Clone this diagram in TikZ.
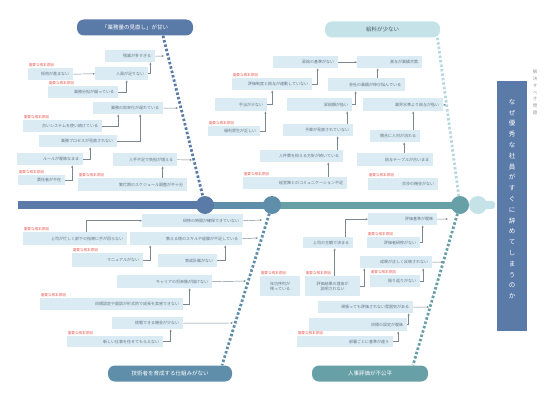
\documentclass[tikz,border=0pt]{standalone}
\usepackage{fontspec}
\setmainfont{Noto Sans CJK JP}
\XeTeXlinebreaklocale "ja"
\XeTeXlinebreakskip=0pt
\usetikzlibrary{arrows.meta}
\definecolor{navy}{RGB}{90,122,168}
\definecolor{steel}{RGB}{94,142,170}
\definecolor{teal}{RGB}{104,160,168}
\definecolor{pale}{RGB}{196,226,231}
\definecolor{boxc}{RGB}{218,235,243}
\definecolor{txt}{RGB}{100,118,130}
\definecolor{lnc}{RGB}{120,135,145}
\definecolor{redl}{RGB}{232,92,86}

\begin{document}
\begin{tikzpicture}[x=1pt,y=-1pt,
		box/.style={fill=boxc, text=txt, font=\fontsize{4}{5}\selectfont, inner xsep=4pt, inner ysep=0pt,
			minimum height=12pt, anchor=north west, text width=#1pt, align=right},
		rlbl/.style={text=redl, font=\fontsize{3.6}{4}\selectfont, inner sep=0.6pt, anchor=south west},
		cat/.style={rounded corners=7pt, minimum height=16pt, inner sep=0pt, font=\fontsize{5.5}{6}\selectfont, text=white},
		conn/.style={draw=lnc, line width=0.45pt, -{Stealth[length=2.4pt,width=2pt]}},
		bone/.style={line width=2.8pt, dash pattern=on 2.5pt off 2pt},
		joint/.style={circle, minimum size=18pt, inner sep=0pt},
		vtxt/.style={text width=7pt, align=center, inner sep=0pt, anchor=north}]
		\useasboundingbox (0,0) rectangle (553,404);
		\coordinate (j1) at (205,205);
		\coordinate (j2) at (272,205);
		\coordinate (j3) at (460,205);

		% categories
		\node[cat, fill=navy, minimum width=116pt] (tlcat) at (135,27.5) {「業務量の見直し」が甘い};
		\node[cat, fill=pale, text=txt!80!black, minimum width=115pt] (trcat) at (382.5,29.5) {給料が少ない};
		\node[cat, fill=steel, minimum width=124pt] (blcat) at (170,373.5) {技術者を育成する仕組みがない};
		\node[cat, fill=teal, minimum width=116pt] (brcat) at (370,373.5) {人事評価が不公平};

		% bones
		\draw[bone, navy] ([xshift=28pt]tlcat.south) -- (j1);
		\draw[bone, pale!85!teal] ([xshift=55pt]trcat.south) -- (j3);
		\draw[bone, steel] (j2) -- ([xshift=52pt]blcat.north);
		\draw[bone, teal] (j3) -- ([xshift=43pt]brcat.north);

		% spine
		\fill[navy] (18,201) rectangle (205,209);
		\fill[steel] (205,201.5) rectangle (272,208.5);
		\fill[teal] (272,201.5) rectangle (460,208.5);
		\fill[pale, rounded corners=3pt] (478,201) rectangle (495,209);
		\node[joint, fill=pale] (k4) at (478,205) {};
		\node[joint, fill=navy] (k1) at (j1) {};
		\node[joint, fill=steel] (k2) at (j2) {};
		\node[joint, fill=teal] (k3) at (j3) {};

		% result
		\node[fill=navy, minimum width=30pt, minimum height=250pt, inner sep=0pt] (res) at (512,206) {};
		\node[vtxt, text=white, font=\fontsize{6.5}{10.8}\selectfont] (restxt) at ([yshift=-18pt]res.north) {なぜ優秀な社員がすぐに辞めてしまうのか};
		\node[vtxt, text=txt!70, font=\fontsize{4.5}{6.7}\selectfont] (reslbl) at (535,70) {解決すべき問題};

		% upper left causes
		\node[box=42] (a1) at (105,50) {残業が多すぎる};
		\node[box=45, minimum height=13pt] (a2) at (95,67) {人員が足りない};
		\node[box=37] (a3) at (28,68) {採用が進まない};
		\node[box=62] (a4) at (48,86) {業務分担が偏っている};
		\node[box=62] (a5) at (93,102) {業務の効率化が遅れている};
		\node[box=71] (a6) at (23,120) {古いシステムを使い続けている};
		\node[box=70] (a7) at (39,135) {業務プロセスが見直されない};
		\node[box=58] (a8) at (17,153) {ルールが曖昧なまま};
		\node[box=39, minimum height=10pt] (a9) at (18,175) {責任者が不在};
		\node[box=56, minimum height=13pt] (a10) at (113,153) {人手不足で負担が増える};
		\node[box=101, minimum height=13pt] (a11) at (78,178) {繁忙期のスケジュール調整が不十分};
		\coordinate (ta1) at (164,56);
		\coordinate (ta5) at (178,108);
		\coordinate (ta10) at (192,160);
		\draw[conn] (a1.east) -- (ta1);
		\draw[conn] (a2.east) -| ([xshift=-5pt]a1.south east);
		\draw[conn] (a3.east) -- (a2.west);
		\draw[conn] (a4.east) -| ([xshift=5pt]a2.south);
		\draw[conn] (a5.east) -- (ta5);
		\draw[conn] (a6.east) -| ([xshift=-10pt]a5.south);
		\draw[conn] (a7.east) -| ([xshift=12pt]a5.south);
		\draw[conn] (a8.east) -| ([xshift=12pt]a7.south);
		\draw[conn] (a9.east) -| ([xshift=22pt]a8.south);
		\draw[conn] (a10.east) -- (ta10);
		\draw[conn] ([xshift=30pt]a11.north) -- ([xshift=30pt]a11.north |- a10.south);

		% upper right causes
		\node[box=57] (b1) at (273,56) {昇給の基準がない};
		\node[box=57] (b2) at (357,56) {賞与が業績次第};
		\node[box=72] (b3) at (232,78) {評価制度と給与が連動していない};
		\node[box=69, minimum height=13pt] (b4) at (328,78) {会社の業績が伸び悩んでいる};
		\node[box=44, minimum height=13pt] (b5) at (215,98) {手当が少ない};
		\node[box=44, minimum height=10pt] (b6) at (208,126) {福利厚生が乏しい};
		\node[box=57, minimum height=13pt] (b7) at (287,98) {昇給額が低い};
		\node[box=72, minimum height=13pt] (b8) at (363,98) {業界水準より給与が低い};
		\node[box=62] (b9) at (283,124) {予算が見直されていない};
		\node[box=75] (b10) at (260,150) {人件費を抑える方針が続いている};
		\node[box=96] (b11) at (243,177) {経営陣とのコミュニケーション不足};
		\node[box=42] (b12) at (370,130) {競合に人材が流れる};
		\node[box=68, minimum height=13pt] (b13) at (357,153) {給与テーブルが古いまま};
		\node[box=62] (b14) at (368,178) {交渉の機会がない};
		\coordinate (tb8) at (446,105);
		\draw[conn] (b1.east) -- (b2.west);
		\draw[conn] (b3.east) -| ([xshift=12pt]b1.south);
		\draw[conn] ([xshift=11pt]b4.north) -- ([xshift=11pt]b4.north |- b2.south);
		\draw[conn] (b5.east) -| (b3.south);
		\draw[conn] (b6.east) -| ([xshift=-2pt]b5.south east);
		\draw[conn] (b7.east) -| ([xshift=-11pt]b4.south);
		\draw[conn] (b8.east) -- (tb8);
		\draw[conn] ([xshift=29pt]b9.north) -- ([xshift=29pt]b9.north |- b7.south);
		\draw[conn] ([xshift=36pt]b10.north) -- ([xshift=36pt]b10.north |- b9.south);
		\draw[conn] ([xshift=33pt]b11.north) -- ([xshift=33pt]b11.north |- b10.south);
		\draw[conn] ([xshift=18pt]b12.north) -- ([xshift=18pt]b12.north |- b8.south);
		\draw[conn] ([xshift=9pt]b13.north) -- ([xshift=9pt]b13.north |- b12.south);

		% lower left causes
		\node[box=93, minimum height=13pt] (c1) at (142,214) {研修の時間が確保できていない};
		\node[box=96, minimum height=13pt] (c2) at (23,232) {上司が忙しく部下の指導に手が回らない};
		\node[box=104, minimum height=13pt] (c3) at (130,232) {教える側のスキルや経験が不足している};
		\node[box=63, minimum height=14pt] (c4) at (72,253) {マニュアルがない};
		\node[box=51, minimum height=13pt] (c5) at (158,254) {育成計画がない};
		\node[box=87, minimum height=13pt] (c6) at (117,275) {キャリアの将来像が描けない};
		\node[box=135] (c7) at (40,298) {目標設定や面談が形式的で成長を実感できない};
		\node[box=63] (c8) at (112,317) {挑戦できる機会が少ない};
		\node[box=88, minimum height=11pt] (c9) at (67,336) {新しい仕事を任せてもらえない};
		\coordinate (tc1) at (262,220);
		\coordinate (tc3) at (258,238);
		\coordinate (tc6) at (246,281);
		\coordinate (tc8) at (233,323);
		\draw[conn] (c1.east) -- (tc1);
		\draw[conn] ([xshift=11pt]c2.north) |- (c1.west);
		\draw[conn] (c3.east) -- (tc3);
		\draw[conn] (c4.east) -| ([xshift=-36pt]c3.south);
		\draw[conn] (c5.east) -| ([xshift=39pt]c3.south);
		\draw[conn] (c6.east) -- (tc6);
		\draw[conn] (c7.east) -| ([xshift=25pt]c6.south);
		\draw[conn] (c8.east) -- (tc8);
		\draw[conn] (c9.east) -| ([xshift=23pt]c8.south);

		% lower right causes
		\node[box=61] (d1) at (368,213) {評価基準が曖昧};
		\node[box=42, minimum height=11pt] (d2) at (303,237) {上司の主観で決まる};
		\node[box=45, minimum height=11pt] (d3) at (367,237) {評価者研修がない};
		\node[box=64] (d4) at (360,256) {成果が正しく反映されない};
		\node[box=42] (d5) at (370,275) {振り返りがない};
		\node[box=47, minimum height=20pt, align=center] (d6) at (305,276) {評価結果の理由が\\説明されない};
		\node[box=32, minimum height=20pt, align=center] (d7) at (260,276) {年功序列が\\残っている};
		\node[box=87] (d8) at (318,301) {頑張っても評価されない雰囲気がある};
		\node[box=90, minimum height=13pt] (d9) at (309,318) {目標の設定が曖昧};
		\node[box=88, minimum height=11pt] (d10) at (297,336) {部署ごとに基準が違う};
		\coordinate (td1) at (448,219);
		\coordinate (td4) at (443,262);
		\coordinate (td8) at (429,307);
		\draw[conn] (d1.east) -- (td1);
		\draw[conn] ([xshift=17pt]d2.north) |- (d1.west);
		\draw[conn] (d3.east) -| ([xshift=20pt]d1.south);
		\draw[conn] (d4.east) -- (td4);
		\draw[conn] (d5.east) -| ([xshift=27pt]d4.south);
		\draw[conn] ([xshift=2pt]d6.north) -- ([xshift=2pt]d6.north |- d2.south);
		\draw[conn] (d6.east) -| ([xshift=-32pt]d4.south);
		\draw[conn] (d8.east) -- (td8);
		\draw[conn] (d9.east) -| ([xshift=43pt]d8.south);
		\draw[conn] (d10.east) -| ([xshift=40pt]d9.south);

		% root cause marks
		\foreach \b in {a3,a4,a6,a9,a11,b3,b6,b11,b14,c2,c4,c7,c9,d3,d5,d6,d7,d10}
			\node[rlbl] (r\b) at (\b.north west) {重要な根本原因};
	\end{tikzpicture}
\end{document}
